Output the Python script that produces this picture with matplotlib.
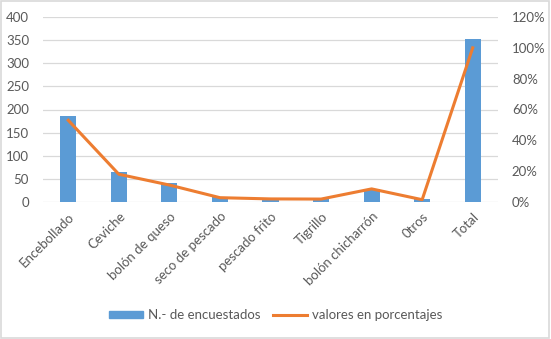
import matplotlib.pyplot as plt
from matplotlib.patches import Rectangle
from matplotlib.lines import Line2D
from matplotlib.ticker import FuncFormatter

plt.rcParams['font.family'] = ['Lato', 'DejaVu Sans']

platos = ['Encebollado', 'Ceviche', 'bolón de queso', 'seco de pescado',
          'pescado frito', 'Tigrillo', 'bolón chicharrón', '0tros', 'Total']
encuestados = [186, 65, 41, 10, 5, 6, 28, 6, 352]
porcentajes = [53, 18, 11, 2.8, 2, 1.9, 8.5, 1.5, 100]

azul = '#5B9BD5'
naranja = '#ED7D31'
gris = '#595959'
rejilla = '#d9d9d9'

fig = plt.figure(figsize=(5.51, 3.39), dpi=100)
ax = fig.add_axes([43 / 551, 1 - 202 / 339, 455 / 551, 185 / 339])
ax2 = ax.twinx()

x = list(range(len(platos)))
ax.bar(x, encuestados, width=0.32, color=azul, zorder=2)
ax2.plot(x, porcentajes, color=naranja, linewidth=2.2, zorder=3)

ax.set_xlim(-0.5, len(platos) - 0.5)
ax.set_ylim(0, 400)
ax.set_yticks(range(0, 401, 50))
ax2.set_ylim(0, 120)
ax2.set_yticks(range(0, 121, 20))
ax2.yaxis.set_major_formatter(FuncFormatter(lambda v, p: f'{v:.0f}%'))

ax.grid(axis='y', color=rejilla, linewidth=0.9, zorder=0)
ax.set_axisbelow(True)
for a in (ax, ax2):
    for s in a.spines.values():
        s.set_visible(False)
    a.tick_params(length=0, labelsize=9.5, colors=gris)
ax.tick_params(axis='y', pad=10)
ax2.tick_params(axis='y', pad=10)

ax.set_xticks(x)
ax.set_xticklabels(platos, rotation=45, ha='right', rotation_mode='anchor')
ax.tick_params(axis='x', pad=6)

handles = [Rectangle((0, 0), 1, 1, color=azul),
           Line2D([0], [0], color=naranja, linewidth=2.2)]
fig.legend(handles, ['N.- de encuestados', 'valores en porcentajes'],
           loc='center', bbox_to_anchor=(0.5, 1 - 315 / 339), ncol=2,
           frameon=False, fontsize=9.5, labelcolor=gris,
           handlelength=2.6, handleheight=0.5, handletextpad=0.4,
           columnspacing=0.9)

fig.patches.append(Rectangle((0.002, 0.003), 0.995, 0.994, transform=fig.transFigure,
                             fill=False, edgecolor=rejilla, linewidth=1.2))

fig.savefig('out.png', dpi=100)
